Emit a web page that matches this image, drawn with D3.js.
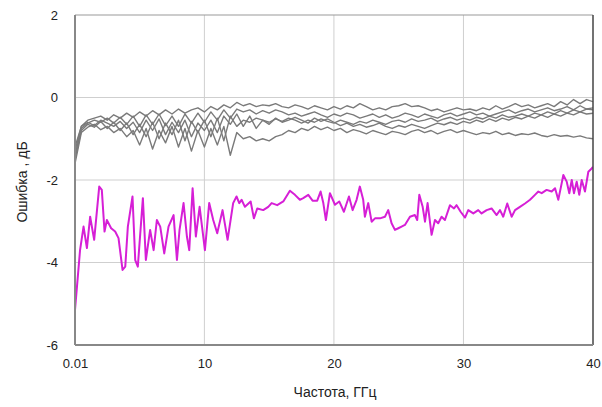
<!DOCTYPE html>
<html><head><meta charset="utf-8">
<script src="https://cdn.jsdelivr.net/npm/d3@7"></script>
<style>body{margin:0;background:#fff}svg{display:block;font-family:"Liberation Sans",Arial,sans-serif}</style>
</head><body><svg id="c" width="602" height="407"></svg>
<script>
const xTicks = [0.01, 10, 20, 30, 40];
const xTickLabels = ["0.01", "10", "20", "30", "40"];
const yTicks = [2, 0, -2, -4, -6];
const xTitle = "Частота, ГГц";
const yTitle = "Ошибка , дБ";

const grayFreq = [0.01,0.5,1,1.5,2,2.5,3,3.5,4,4.5,
 5,5.5,6,6.5,7,7.5,8,8.5,9,9.5,
 10,10.5,11,11.5,12,12.5,13,13.5,14,14.5,
 15,15.5,16,16.5,17,17.5,18,18.5,19,19.5,
 20,20.5,21,21.5,22,22.5,23,23.5,24,24.5,
 25,25.5,26,26.5,27,27.5,28,28.5,29,29.5,
 30,30.5,31,31.5,32,32.5,33,33.5,34,34.5,
 35,35.5,36,36.5,37,37.5,38,38.5,39,39.5,40];

const gray1 = [-1.20,-0.70,-0.55,-0.50,-0.45,-0.55,-0.42,-0.50,-0.38,-0.48,
 -0.35,-0.45,-0.32,-0.42,-0.30,-0.40,-0.28,-0.38,-0.30,-0.25,
 -0.35,-0.22,-0.30,-0.18,-0.25,-0.12,-0.20,-0.15,-0.22,-0.18,
 -0.20,-0.15,-0.22,-0.25,-0.18,-0.22,-0.28,-0.20,-0.25,-0.30,
 -0.22,-0.28,-0.20,-0.25,-0.15,-0.22,-0.30,-0.25,-0.30,-0.22,
 -0.20,-0.15,-0.22,-0.20,-0.25,-0.32,-0.28,-0.35,-0.30,-0.25,
 -0.30,-0.28,-0.32,-0.25,-0.30,-0.20,-0.28,-0.22,-0.15,-0.22,
 -0.18,-0.25,-0.20,-0.15,-0.22,-0.10,-0.18,-0.05,-0.15,-0.05,-0.10];
const gray2 = [-1.40,-0.75,-0.62,-0.55,-0.60,-0.50,-0.62,-0.48,-0.65,-0.45,
 -0.70,-0.42,-0.65,-0.40,-0.68,-0.45,-0.70,-0.40,-0.62,-0.38,
 -0.60,-0.35,-0.55,-0.30,-0.50,-0.28,-0.35,-0.30,-0.40,-0.32,
 -0.38,-0.30,-0.35,-0.42,-0.38,-0.45,-0.40,-0.35,-0.42,-0.48,
 -0.40,-0.45,-0.38,-0.42,-0.50,-0.45,-0.40,-0.48,-0.42,-0.50,
 -0.45,-0.38,-0.42,-0.48,-0.40,-0.45,-0.50,-0.42,-0.38,-0.45,
 -0.40,-0.35,-0.42,-0.38,-0.45,-0.40,-0.35,-0.30,-0.38,-0.32,
 -0.28,-0.35,-0.30,-0.25,-0.32,-0.28,-0.22,-0.30,-0.20,-0.28,-0.25];
const gray3 = [-1.50,-0.80,-0.65,-0.72,-0.58,-0.75,-0.60,-0.80,-0.62,-0.90,
 -0.65,-0.95,-0.60,-1.00,-0.62,-0.90,-0.55,-1.05,-0.58,-0.85,
 -0.55,-0.95,-0.50,-1.05,-0.45,-0.70,-0.55,-0.60,-0.50,-0.55,
 -0.60,-0.52,-0.58,-0.50,-0.55,-0.62,-0.55,-0.60,-0.52,-0.58,
 -0.62,-0.55,-0.60,-0.65,-0.58,-0.62,-0.55,-0.60,-0.65,-0.58,
 -0.55,-0.60,-0.52,-0.58,-0.55,-0.50,-0.58,-0.52,-0.48,-0.55,
 -0.50,-0.55,-0.48,-0.52,-0.45,-0.50,-0.42,-0.48,-0.45,-0.40,
 -0.45,-0.38,-0.42,-0.35,-0.40,-0.32,-0.38,-0.30,-0.35,-0.28,-0.30];
const gray4 = [-1.60,-0.85,-0.72,-0.65,-0.78,-0.70,-0.85,-0.75,-0.95,-0.80,
 -1.15,-0.75,-1.25,-0.80,-1.10,-0.70,-1.20,-0.75,-1.30,-0.80,
 -1.20,-0.75,-1.15,-0.70,-1.40,-0.85,-1.00,-0.95,-1.05,-1.00,
 -1.05,-0.95,-0.90,-0.80,-0.85,-0.75,-0.80,-0.70,-0.78,-0.72,
 -0.80,-0.75,-0.85,-0.78,-0.82,-0.88,-0.80,-0.85,-0.90,-0.82,
 -0.85,-0.90,-0.82,-0.78,-0.85,-0.80,-0.88,-0.82,-0.78,-0.85,
 -0.80,-0.85,-0.90,-0.85,-0.88,-0.82,-0.90,-0.86,-0.92,-0.88,
 -0.90,-0.86,-0.92,-0.95,-0.90,-0.94,-0.92,-0.96,-0.93,-0.98,-1.00];
const gray5 = [-1.30,-0.70,-0.60,-0.68,-0.55,-0.62,-0.70,-0.58,-0.75,-0.60,
 -0.85,-0.55,-0.80,-0.52,-0.90,-0.60,-0.85,-0.55,-0.95,-0.62,
 -0.80,-0.55,-0.85,-0.45,-0.65,-0.40,-0.70,-0.45,-0.75,-0.55,
 -0.65,-0.50,-0.60,-0.55,-0.48,-0.55,-0.62,-0.50,-0.58,-0.52,
 -0.60,-0.68,-0.62,-0.70,-0.65,-0.72,-0.68,-0.62,-0.70,-0.75,
 -0.68,-0.72,-0.65,-0.70,-0.75,-0.68,-0.62,-0.66,-0.60,-0.65,
 -0.58,-0.62,-0.55,-0.60,-0.52,-0.58,-0.50,-0.55,-0.48,-0.52,
 -0.45,-0.50,-0.42,-0.48,-0.40,-0.45,-0.38,-0.42,-0.35,-0.40,-0.38];

const magFreq = [0.01,0.4,0.67,0.93,1.18,1.49,1.88,2.08,2.29,2.47,2.8,3.11,3.37,3.68,3.89,4.09,4.45,4.66,4.86,
 5.25,5.48,5.81,6.08,6.33,6.59,6.9,7.23,7.62,7.88,8.08,8.39,8.65,8.83,9.09,9.34,9.63,
 10.04,10.37,10.68,10.99,11.4,11.79,12.22,12.48,12.69,12.87,13.13,13.57,13.82,14.08,14.54,14.93,
 15.19,15.62,16.09,16.6,16.99,17.37,17.63,18.02,18.35,18.71,18.97,19.18,19.38,19.69,
 20.08,20.41,20.77,21.16,21.44,21.75,22.0,22.26,22.39,22.65,22.91,23.17,23.55,23.94,24.19,24.45,24.71,24.97,
 25.22,25.48,25.87,26.25,26.43,26.59,26.85,27.03,27.23,27.54,27.8,28.05,28.31,28.57,28.96,29.27,29.47,29.78,
 30.12,30.37,30.76,31.14,31.4,31.79,32.17,32.56,32.82,33.07,33.38,33.72,33.98,34.36,34.75,
 35.14,35.52,35.78,36.04,36.42,36.81,37.07,37.32,37.53,37.71,37.97,38.17,38.36,38.53,38.74,38.94,39.13,39.38,39.64,39.9,40];
const magVal = [-5.15,-3.70,-3.13,-3.65,-2.89,-3.45,-2.16,-2.24,-3.25,-2.97,-3.17,-3.25,-3.41,-4.18,-4.10,-3.13,-2.40,-3.94,-4.10,
 -2.44,-3.94,-3.21,-3.70,-2.97,-3.13,-3.78,-3.13,-2.85,-3.94,-3.21,-2.56,-3.37,-3.70,-2.20,-3.37,-2.65,
 -3.70,-2.56,-2.97,-3.29,-2.73,-3.45,-2.56,-2.40,-2.56,-2.48,-2.65,-2.52,-2.93,-2.69,-2.73,-2.65,
 -2.56,-2.61,-2.52,-2.26,-2.36,-2.48,-2.44,-2.36,-2.50,-2.50,-2.28,-2.56,-2.97,-2.32,
 -2.60,-2.52,-2.77,-2.40,-2.73,-2.48,-2.16,-2.48,-2.89,-2.56,-3.01,-2.93,-2.93,-2.89,-2.73,-3.05,-3.21,-3.17,
 -3.13,-3.09,-2.89,-2.85,-2.97,-2.36,-2.65,-3.01,-2.56,-3.33,-2.97,-3.05,-2.89,-2.97,-2.61,-2.69,-2.61,-2.77,
 -2.91,-2.73,-2.81,-2.73,-2.81,-2.73,-2.69,-2.85,-2.73,-2.89,-2.57,-2.89,-2.73,-2.65,-2.57,
 -2.48,-2.36,-2.28,-2.32,-2.24,-2.28,-2.20,-2.48,-2.16,-1.88,-2.04,-2.32,-2.00,-2.32,-2.04,-2.36,-2.00,-2.28,-1.80,-1.72,-1.68];

const W = 602, H = 407;
const m = {left: 75, top: 15, right: 9, bottom: 62};
const svg = d3.select("#c");
svg.append("rect").attr("width", W).attr("height", H).attr("fill", "#fff");

const x = d3.scaleLinear().domain([0.01, 40]).range([m.left, W - m.right]);
const y = d3.scaleLinear().domain([-6, 2]).range([H - m.bottom, m.top]);

// gridlines
svg.append("g").selectAll("line").data(xTicks.slice(1, -1)).join("line")
  .attr("x1", d => x(d)).attr("x2", d => x(d)).attr("y1", y(2)).attr("y2", y(-6))
  .attr("stroke", "#cfcfcf").attr("stroke-width", 1);
svg.append("g").selectAll("line").data(yTicks.slice(1, -1)).join("line")
  .attr("x1", x(0.01)).attr("x2", x(40)).attr("y1", d => y(d)).attr("y2", d => y(d))
  .attr("stroke", "#cfcfcf").attr("stroke-width", 1);

const clip = svg.append("clipPath").attr("id", "pc").append("rect")
  .attr("x", x(0.01)).attr("y", y(2)).attr("width", x(40) - x(0.01)).attr("height", y(-6) - y(2));

const line = d3.line().x(d => x(d[0])).y(d => y(d[1]));
const plot = svg.append("g").attr("clip-path", "url(#pc)");
[gray1, gray2, gray3, gray4, gray5].forEach(s => {
  plot.append("path").datum(grayFreq.map((f, i) => [f, s[i]]))
    .attr("d", line).attr("fill", "none").attr("stroke", "#7a7a7a").attr("stroke-width", 1.4)
    .attr("stroke-linejoin", "round");
});
plot.append("path").datum(magFreq.map((f, i) => [f, magVal[i]]))
  .attr("d", line).attr("fill", "none").attr("stroke", "#d61fd6").attr("stroke-width", 2)
  .attr("stroke-linejoin", "round");

// frame
svg.append("line").attr("x1", x(0.01)).attr("x2", x(40)).attr("y1", y(2)).attr("y2", y(2)).attr("stroke", "#999").attr("stroke-width", 1.2);
svg.append("line").attr("x1", x(40)).attr("x2", x(40)).attr("y1", y(2)).attr("y2", y(-6)).attr("stroke", "#444").attr("stroke-width", 1.5);
svg.append("line").attr("x1", x(0.01)).attr("x2", x(0.01)).attr("y1", y(2)).attr("y2", y(-6)).attr("stroke", "#888").attr("stroke-width", 2);
svg.append("line").attr("x1", x(0.01)).attr("x2", x(40)).attr("y1", y(-6)).attr("y2", y(-6)).attr("stroke", "#888").attr("stroke-width", 2);

// axes via d3 axis (labels only)
const xAxis = d3.axisBottom(x).tickValues(xTicks).tickFormat((d, i) => xTickLabels[i]).tickSize(0).tickPadding(14);
const gx = svg.append("g").attr("transform", `translate(0,${y(-6)})`).call(xAxis);
gx.select(".domain").remove();
gx.selectAll("text").attr("font-size", 13).attr("fill", "#222").attr("font-family", "Liberation Sans, Arial, sans-serif");

const yAxis = d3.axisLeft(y).tickValues(yTicks).tickFormat(d3.format("d")).tickSize(0).tickPadding(17);
const gy = svg.append("g").attr("transform", `translate(${x(0.01)},0)`).call(yAxis);
gy.select(".domain").remove();
gy.selectAll("text").attr("font-size", 13).attr("fill", "#222").attr("font-family", "Liberation Sans, Arial, sans-serif")
  .text(d => d < 0 ? "-" + Math.abs(d) : String(d));

svg.append("text").attr("x", 335).attr("y", 397).attr("text-anchor", "middle")
  .attr("font-size", 14).attr("fill", "#222").text(xTitle);
svg.append("text").attr("transform", "translate(27,182) rotate(-90)").attr("text-anchor", "middle")
  .attr("font-size", 14).attr("fill", "#222").text(yTitle);
</script></body></html>
